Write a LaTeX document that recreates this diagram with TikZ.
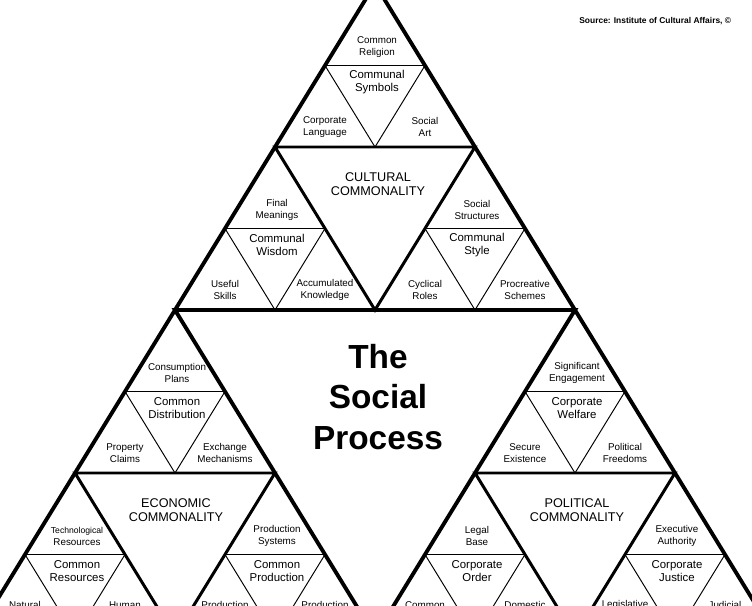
\documentclass[tikz,border=0pt]{standalone}
\usepackage{fontspec}
\setmainfont{Liberation Sans}
\newcommand{\lblfont}{\fontsize{5.6}{6.8}\selectfont}
\newcommand{\midfont}{\fontsize{6.5}{7.4}\selectfont}

\begin{document}
\begin{tikzpicture}[x=0.02cm,y=-0.02cm]
    \tikzset{heavy/.style={line width=2.2pt,line join=miter},
             medium/.style={line width=1.7pt,line join=miter},
             light/.style={line width=0.55pt},
             lbl/.style={align=center,inner sep=0pt,font=\lblfont},
             mid/.style={align=center,inner sep=0pt,font=\midfont},
             realm/.style={align=center,inner sep=0pt,font=\fontsize{7.2}{8.2}\selectfont}}
    \useasboundingbox (0,0) rectangle (752,606);
    \clip (0,0) rectangle (752,606);
    % small triangles
    \foreach \n/\x/\y/\e/\a/\b/\c/\d in {
        sym/375/-16/143/{Common\\Religion}/{Communal\\Symbols}/{Corporate\\Language}/{Social\\Art},
        wis/275/147/143/{Final\\Meanings}/{Communal\\Wisdom}/{Useful\\Skills}/{Accumulated\\Knowledge},
        sty/475/147/143/{Social\\Structures}/{Communal\\Style}/{Cyclical\\Roles}/{Procreative\\Schemes},
        dis/175/310/143/{Consumption\\Plans}/{Common\\Distribution}/{Property\\Claims}/{Exchange\\Mechanisms},
        wel/575/310/143/{Significant\\Engagement}/{Corporate\\Welfare}/{Secure\\Existence}/{Political\\Freedoms},
        res/75/473/132/{{\fontsize{4.9}{6.8}\selectfont Technological}\\Resources}/{Common\\Resources}/{Natural}/{Human},
        pro/275/473/132/{Production\\Systems}/{Common\\Production}/{Production}/{Production},
        ord/475/473/132/{Legal\\Base}/{Corporate\\Order}/{Common}/{Domestic},
        jus/675/473/132/{Executive\\Authority}/{Corporate\\Justice}/{Legislative}/{Judicial}} {
        \draw[light] (\x-50,\y+81.5) -- (\x+50,\y+81.5) -- (\x,\y+163) -- cycle;
        \node[lbl] (\n-top) at (\x+2,\y+63) {\a};
        \node[mid] (\n-mid) at (\x+2,\y+98) {\b};
        \node[lbl] (\n-left) at (\x-50,\y+\e) {\c};
        \node[lbl] (\n-right) at (\x+50,\y+\e) {\d};
    }
    % big triangles
    \draw[medium] (275,147) -- (475,147) -- (375,310) -- cycle;
    \draw[medium] (75,473) -- (275,473) -- (175,636) -- cycle;
    \draw[medium] (475,473) -- (675,473) -- (575,636) -- cycle;
    \draw[heavy] (175,310) -- (575,310) -- (375,636) -- cycle;
    \draw[heavy] (375,-16) -- (-25,636) -- (775,636) -- cycle;
    \node[realm] (cult) at (378,184) {CULTURAL\\COMMONALITY};
    \node[realm] (econ) at (176,510) {ECONOMIC\\COMMONALITY};
    \node[realm] (poli) at (577,510) {POLITICAL\\COMMONALITY};
    \node[align=center,inner sep=0pt,font=\fontsize{19}{23}\bfseries\selectfont] (proc) at (378,397) {The\\Social\\Process};
    \node[anchor=west,inner sep=0pt,font=\fontsize{4.8}{6}\bfseries\selectfont] (src) at (579,21) {Source: Institute of Cultural Affairs, ©};
\end{tikzpicture}
\end{document}
